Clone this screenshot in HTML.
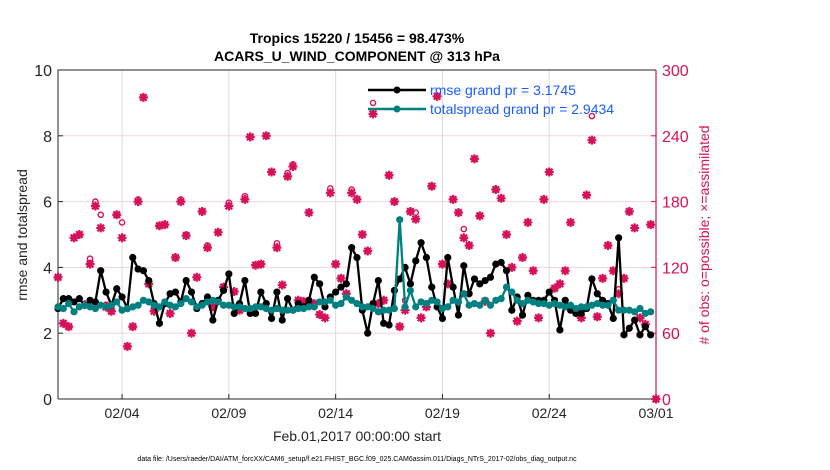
<!DOCTYPE html>
<html><head><meta charset="utf-8"><style>
body{margin:0;background:#fff;}
svg{font-family:"Liberation Sans",sans-serif;display:block}
</style></head><body>
<svg id="chart" width="830" height="470" viewBox="0 0 830 470">
<text x="357" y="43" text-anchor="middle" font-size="14" font-weight="bold" fill="#000">Tropics 15220 / 15456 = 98.473%</text>
<text x="357" y="61" text-anchor="middle" font-size="14" font-weight="bold" fill="#000">ACARS_U_WIND_COMPONENT @ 313 hPa</text>
<g id="grid"></g><g id="axes"></g><g id="marks"></g>
<text transform="translate(27,235) rotate(-90)" text-anchor="middle" font-size="14" fill="#262626">rmse and totalspread</text>
<text transform="translate(709,235) rotate(-90)" text-anchor="middle" font-size="14" fill="#d6115a"># of obs: o=possible; ×=assimilated</text>
<text x="357" y="441" text-anchor="middle" font-size="14" fill="#262626">Feb.01,2017 00:00:00 start</text>
<text x="357" y="461" text-anchor="middle" font-size="7" fill="#000">data file: /Users/raeder/DAI/ATM_forcXX/CAM6_setup/f.e21.FHIST_BGC.f09_025.CAM6assim.011/Diags_NTrS_2017-02/obs_diag_output.nc</text>
<g>
<line x1="368" y1="90" x2="426" y2="90" stroke="#000" stroke-width="2.5"/>
<circle cx="397" cy="90" r="3.5" fill="#000"/>
<text x="430" y="95" font-size="14" fill="#1a5cff">rmse grand pr = 3.1745</text>
<line x1="368" y1="109" x2="426" y2="109" stroke="#008080" stroke-width="2.5"/>
<circle cx="397" cy="109" r="3.5" fill="#008080"/>
<text x="430" y="114" font-size="14" fill="#1a5cff">totalspread grand pr = 2.9434</text>
</g>
</svg>
<script>
const rmse=[2.75,3.05,3.05,2.95,3.05,2.85,3.0,2.95,3.9,3.25,2.85,3.35,
3.1,2.75,4.3,3.95,3.9,3.6,2.9,2.3,2.9,3.2,3.25,2.95,
3.6,3.25,2.75,2.9,3.1,2.4,3.0,3.3,3.8,2.6,2.9,3.6,
2.6,2.6,3.25,2.9,2.45,3.25,2.4,3.05,2.7,2.9,2.8,3.0,
3.7,3.5,2.8,3.1,3.25,3.4,3.5,4.6,4.3,2.7,2.0,2.9,
3.6,2.3,2.25,3.3,3.65,4.0,3.5,4.2,4.75,4.3,3.4,2.8,
2.45,4.3,3.4,2.55,4.05,3.2,3.65,3.5,3.6,3.7,4.1,4.15,
3.9,2.7,3.1,2.55,3.15,3.0,3.0,3.0,3.25,3.0,2.1,3.0,
2.7,2.6,2.6,2.75,3.65,3.2,3.0,2.9,2.45,4.9,1.95,2.15,
2.4,1.95,2.2,1.95];
const spread=[2.8,2.75,2.9,2.65,2.8,2.85,2.8,2.75,2.85,2.8,2.85,2.95,
2.7,2.75,2.8,2.85,3.0,2.95,2.85,2.8,2.95,2.85,2.8,2.9,
3.05,2.95,2.8,2.85,2.95,3.0,2.95,2.85,2.85,2.8,2.8,2.75,
2.75,2.8,2.8,2.75,2.7,2.75,2.7,2.7,2.7,2.75,2.75,2.8,
2.8,2.95,2.95,3.0,2.85,2.9,3.1,3.0,2.9,2.8,2.8,2.75,
2.65,2.7,2.7,2.75,5.45,2.8,3.3,2.8,2.95,2.9,3.0,2.95,
2.75,2.8,3.0,2.95,3.2,2.85,2.9,2.85,3.0,2.85,3.0,3.05,
3.4,3.25,3.0,2.9,3.0,2.95,2.9,2.9,2.85,2.9,2.85,2.8,
2.85,2.75,2.8,2.8,2.85,2.9,2.85,2.85,3.0,2.7,2.7,2.7,
2.65,2.75,2.6,2.65];
const assimilated=[111,69,66,147,150,86,123,176,156,84,80,168,147,48,66,180,275,105,80,158,159,78,129,180,149,60,111,171,138,84,152,102,176,98,81,182,239,122,123,240,207,138,104,203,212,
90,89,170,87,77,74,188,123,110,96,188,182,150,135,260,87,90,204,180,66,81,171,164,74,84,194,276,123,105,182,170,147,140,219,167,89,60,191,183,150,
120,71,129,161,117,74,182,207,101,105,117,161,81,74,186,236,75,110,140,117,96,110,171,156,74,68,159,0];
const possible=[111,69,66,147,150,86,128,180,168,86,80,168,161,48,66,182,275,105,83,158,159,78,129,182,150,60,111,171,140,84,152,102,179,98,81,185,239,122,123,240,207,142,104,206,214,
90,89,170,87,77,74,192,123,110,96,191,182,150,135,270,87,90,204,180,66,90,171,170,74,84,194,276,123,105,182,170,155,140,219,167,89,60,191,183,150,
120,71,129,161,117,74,182,207,101,105,117,161,81,74,186,258,75,110,140,117,100,110,171,156,74,68,159,0];
const xTickDays=[3,8,13,18,23,28];
const xTickLabels=["02/04","02/09","02/14","02/19","02/24","03/01"];
const yTicks=[0,2,4,6,8,10];
const rTicks=[0,60,120,180,240,300];

const L=58,R=656,T=70,B=399,NS="http://www.w3.org/2000/svg";
const xDay=d=>L+(R-L)*d/28;
const xIdx=i=>xDay(i*0.25);
const yL=v=>B-(B-T)*v/10;
const yR=c=>B-(B-T)*c/300;
function mk(tag,attrs,parent){const e=document.createElementNS(NS,tag);for(const k in attrs)e.setAttribute(k,attrs[k]);parent.appendChild(e);return e;}
const grid=document.getElementById('grid'),axes=document.getElementById('axes'),marks=document.getElementById('marks');
yTicks.forEach((v,k)=>{if(v>0&&v<10){const g=mk('line',{x1:L,x2:R,y1:yL(v),y2:yL(v),stroke:'#f0d4df','stroke-width':1},grid);

}
const t=mk('text',{x:L-6,y:yL(v)+6,'text-anchor':'end','font-size':16,fill:'#262626'},axes);t.textContent=v;


mk('line',{x1:L,x2:L+5,y1:yL(v),y2:yL(v),stroke:'#262626'},axes);});
rTicks.forEach(c=>{const t=mk('text',{x:R+6,y:yR(c)+6,'font-size':16,fill:'#d6115a'},axes);t.textContent=c;


mk('line',{x1:R-5,x2:R,y1:yR(c),y2:yR(c),stroke:'#d6115a'},axes);});
xTickDays.forEach((d,k)=>{const x=xDay(d);if(d<28){const g=mk('line',{x1:x,x2:x,y1:T,y2:B,stroke:'#dcdcdc'},grid);

}
mk('line',{x1:x,x2:x,y1:B,y2:B-5,stroke:'#262626'},axes);
const t=mk('text',{x:x,y:B+19,'text-anchor':'middle','font-size':14,fill:'#262626'},axes);t.textContent=xTickLabels[k];

});
const fr=mk('path',{d:`M${L},${B}V${T}H${R}M${L},${B}H${R}`,fill:'none',stroke:'#262626','stroke-width':1},axes);


const ra=mk('line',{x1:R,x2:R,y1:T,y2:B,stroke:'#d6115a','stroke-width':1.2},axes);


// counts
possible.forEach((c,i)=>{const x=i<112?xIdx(i):R;const e=mk('circle',{cx:x,cy:yR(c),r:2.6,fill:'none',stroke:'#d6115a','stroke-width':1.4},marks);

});
assimilated.forEach((c,i)=>{const x=i<112?xIdx(i):R,y=yR(c),s=4.5,d=3.3;
const e=mk('path',{d:`M${x-s},${y}H${x+s}M${x},${y-s}V${y+s}M${x-d},${y-d}L${x+d},${y+d}M${x-d},${y+d}L${x+d},${y-d}`,stroke:'#d6115a','stroke-width':2.2},marks);

});
function series(arr,color,name){const p=mk('polyline',{points:arr.map((v,i)=>xIdx(i)+','+yL(v)).join(' '),fill:'none',stroke:color,'stroke-width':2.3},marks);


arr.forEach((v,i)=>{const c=mk('circle',{cx:xIdx(i),cy:yL(v),r:3.6,fill:color},marks);

});}
series(rmse,'#000','rmse');
series(spread,'#008080','totalspread');
</script>
</body></html>
